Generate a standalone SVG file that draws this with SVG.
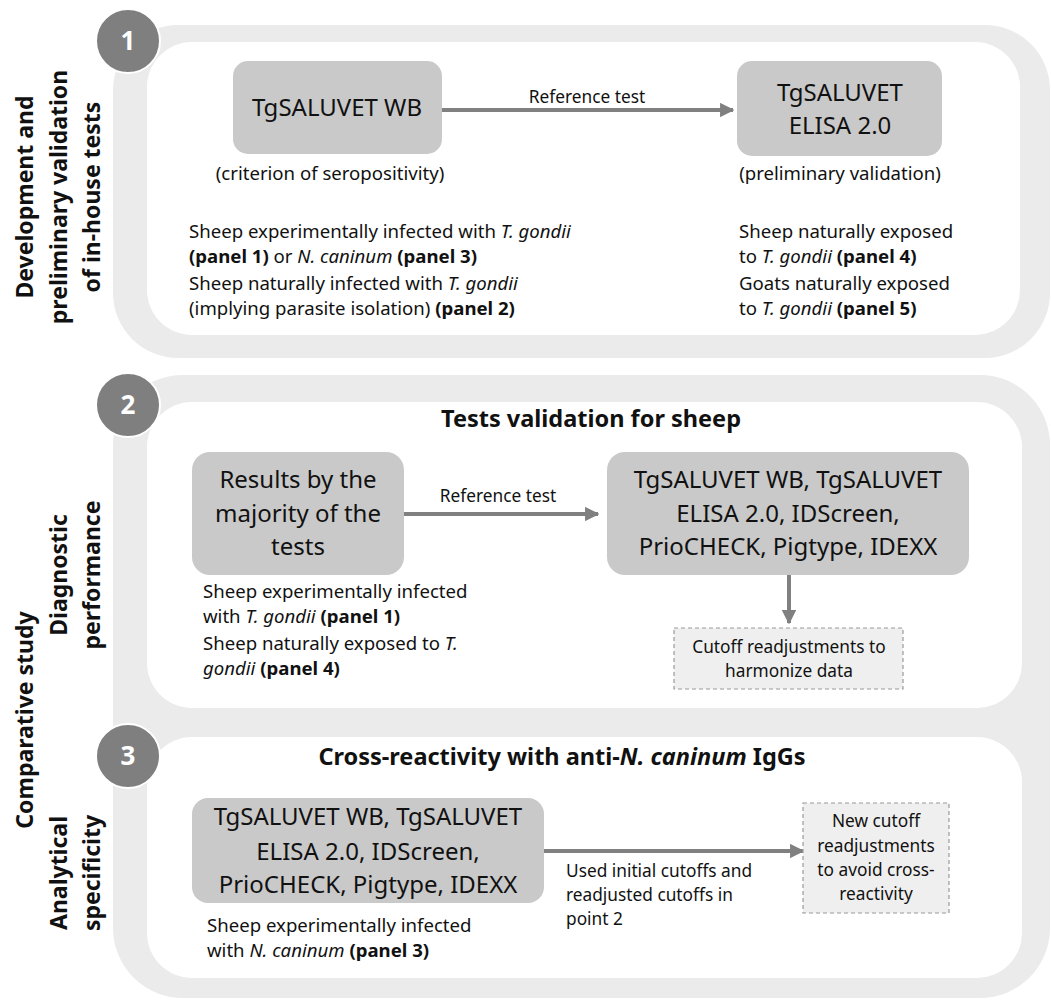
<svg xmlns="http://www.w3.org/2000/svg" width="1051" height="1000" viewBox="0 0 1051 1000">
<defs>
<style>
text{font-family:"Noto Sans","Open Sans","DejaVu Sans",sans-serif;fill:#111}
.outer{fill:#ebebeb}
.inner{fill:#fff}
.box{fill:#c9c9c9}
.dbox{fill:#efefef;stroke:#9a9a9a;stroke-width:1.2;stroke-dasharray:4 3}
.circ{fill:#7f7f7f;stroke:#fff;stroke-width:2}
.num{font-size:26px;font-weight:bold;fill:#fff}
.side{font-size:23px;font-weight:bold}
.big{font-size:24px}
.note{font-size:18.6px}
.small{font-size:17.3px}
.title{font-size:23.5px;font-weight:bold}
.conn{stroke:#808080;stroke-width:4;fill:none}
.b{font-weight:bold}
.i{font-style:italic}
</style>
<marker id="ah" viewBox="0 0 10 10" refX="9" refY="5" markerWidth="3.6" markerHeight="3.6" orient="auto" markerUnits="strokeWidth">
<path d="M0,0 L10,5 L0,10 z" fill="#808080"/>
</marker>
</defs>

<g id="section1">
<rect class="outer" x="113" y="25" width="937" height="333" rx="65"/>
<rect class="inner" x="147" y="42" width="873" height="293" rx="45"/>
</g>
<g id="section23">
<rect class="outer" x="113" y="375" width="937" height="623" rx="70"/>
<rect class="inner" x="147" y="402" width="875" height="306" rx="45"/>
<rect class="inner" x="147" y="737" width="875" height="241" rx="45"/>
</g>

<g id="side-labels">
<text class="side" text-anchor="middle" transform="translate(0,197) rotate(-90)"><tspan x="0" y="33">Development and</tspan><tspan x="0" y="67">preliminary validation</tspan><tspan x="0" y="100">of in-house tests</tspan></text>
<text class="side" text-anchor="middle" transform="translate(0,720) rotate(-90)"><tspan x="0" y="33">Comparative study</tspan></text>
<text class="side" text-anchor="middle" transform="translate(0,575) rotate(-90)"><tspan x="0" y="67">Diagnostic</tspan><tspan x="0" y="100">performance</tspan></text>
<text class="side" text-anchor="middle" transform="translate(0,873) rotate(-90)"><tspan x="0" y="67">Analytical</tspan><tspan x="0" y="100">specificity</tspan></text>
</g>

<g id="step1">
<circle class="circ" cx="128" cy="41" r="32"/>
<text class="num" x="128" y="50" text-anchor="middle">1</text>
</g>
<g id="step2">
<circle class="circ" cx="128" cy="405" r="32"/>
<text class="num" x="128" y="414" text-anchor="middle">2</text>
</g>
<g id="step3">
<circle class="circ" cx="128" cy="756" r="32"/>
<text class="num" x="128" y="765" text-anchor="middle">3</text>
</g>

<g id="connectors">
<line class="conn" x1="442" y1="110" x2="733" y2="110" marker-end="url(#ah)"/>
<line class="conn" x1="404" y1="514" x2="598" y2="514" marker-end="url(#ah)"/>
<line class="conn" x1="789" y1="575" x2="789" y2="623" marker-end="url(#ah)"/>
<line class="conn" x1="544" y1="851" x2="803" y2="851" marker-end="url(#ah)"/>
<text class="small" x="587" y="103" text-anchor="middle">Reference test</text>
<text class="small" x="498" y="502" text-anchor="middle">Reference test</text>
<text class="small" x="566"><tspan x="566" y="877">Used initial cutoffs and</tspan><tspan x="566" y="901">readjusted cutoffs in</tspan><tspan x="566" y="925">point 2</tspan></text>
</g>

<g id="node-wb">
<rect class="box" x="233" y="61" width="209" height="93" rx="15"/>
<text class="big" x="337" y="116" text-anchor="middle">TgSALUVET WB</text>
<text class="note" x="330" y="180" text-anchor="middle">(criterion of seropositivity)</text>
</g>
<g id="node-elisa">
<rect class="box" x="737" y="61" width="205" height="95" rx="15"/>
<text class="big" x="840" y="101" text-anchor="middle">TgSALUVET</text>
<text class="big" x="840" y="134" text-anchor="middle">ELISA 2.0</text>
<text class="note" x="840" y="180" text-anchor="middle">(preliminary validation)</text>
</g>
<g id="panels1-left">
<text class="note"><tspan x="189" y="238">Sheep experimentally infected with <tspan class="i">T. gondii</tspan></tspan><tspan x="189" y="263"><tspan class="b">(panel 1)</tspan> or <tspan class="i">N. caninum</tspan> <tspan class="b">(panel 3)</tspan></tspan><tspan x="189" y="290">Sheep naturally infected with <tspan class="i">T. gondii</tspan></tspan><tspan x="189" y="315">(implying parasite isolation) <tspan class="b">(panel 2)</tspan></tspan></text>
</g>
<g id="panels1-right">
<text class="note"><tspan x="739" y="238">Sheep naturally exposed</tspan><tspan x="739" y="263">to <tspan class="i">T. gondii</tspan> <tspan class="b">(panel 4)</tspan></tspan><tspan x="739" y="290">Goats naturally exposed</tspan><tspan x="739" y="315">to <tspan class="i">T. gondii</tspan> <tspan class="b">(panel 5)</tspan></tspan></text>
</g>

<g id="title2">
<text class="title" x="591" y="427" text-anchor="middle">Tests validation for sheep</text>
</g>
<g id="node-majority">
<rect class="box" x="192" y="452" width="212" height="123" rx="18"/>
<text class="big" text-anchor="middle"><tspan x="298" y="488">Results by the</tspan><tspan x="298" y="522">majority of the</tspan><tspan x="298" y="555">tests</tspan></text>
<text class="note"><tspan x="203" y="598">Sheep experimentally infected</tspan><tspan x="203" y="623">with <tspan class="i">T. gondii</tspan> <tspan class="b">(panel 1)</tspan></tspan><tspan x="203" y="650">Sheep naturally exposed to <tspan class="i">T.</tspan></tspan><tspan x="203" y="675"><tspan class="i">gondii</tspan> <tspan class="b">(panel 4)</tspan></tspan></text>
</g>
<g id="node-tests2">
<rect class="box" x="607" y="452" width="362" height="123" rx="18"/>
<text class="big" text-anchor="middle"><tspan x="788" y="488">TgSALUVET WB, TgSALUVET</tspan><tspan x="788" y="522">ELISA 2.0, IDScreen,</tspan><tspan x="788" y="555">PrioCHECK, Pigtype, IDEXX</tspan></text>
</g>
<g id="node-cutoff2">
<rect class="dbox" x="674" y="628" width="229" height="61"/>
<text class="small" text-anchor="middle"><tspan x="789" y="653">Cutoff readjustments to</tspan><tspan x="789" y="677">harmonize data</tspan></text>
</g>

<g id="title3">
<text class="title" x="562" y="765" text-anchor="middle">Cross-reactivity with anti-<tspan class="i">N. caninum</tspan> IgGs</text>
</g>
<g id="node-tests3">
<rect class="box" x="192" y="798" width="352" height="105" rx="16"/>
<text class="big" text-anchor="middle"><tspan x="368" y="825">TgSALUVET WB, TgSALUVET</tspan><tspan x="368" y="860">ELISA 2.0, IDScreen,</tspan><tspan x="368" y="893">PrioCHECK, Pigtype, IDEXX</tspan></text>
<text class="note"><tspan x="207" y="932">Sheep experimentally infected</tspan><tspan x="207" y="957">with <tspan class="i">N. caninum</tspan> <tspan class="b">(panel 3)</tspan></tspan></text>
</g>
<g id="node-cutoff3">
<rect class="dbox" x="803" y="803" width="146" height="110"/>
<text class="small" text-anchor="middle"><tspan x="876" y="827">New cutoff</tspan><tspan x="876" y="852">readjustments</tspan><tspan x="876" y="876">to avoid cross-</tspan><tspan x="876" y="900">reactivity</tspan></text>
</g>
</svg>
